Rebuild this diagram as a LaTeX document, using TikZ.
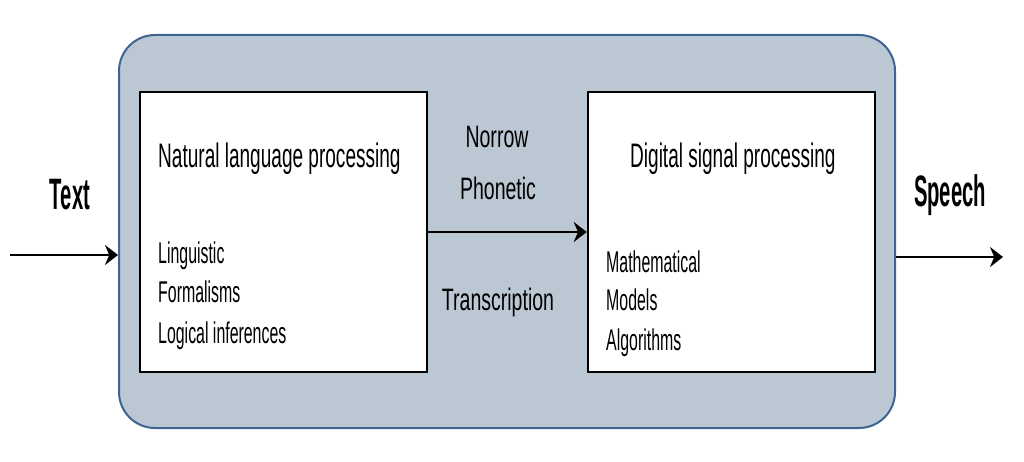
\documentclass[tikz,border=0pt]{standalone}
\usepackage{fontspec}
\usetikzlibrary{arrows.meta}
\newfontfamily\condh[FakeStretch=0.56]{Liberation Sans}
\newfontfamily\cond[FakeStretch=0.53]{Liberation Sans}
\newfontfamily\condm[FakeStretch=0.63]{Liberation Sans}
\newfontfamily\condb[FakeStretch=0.46]{Liberation Sans Bold}
\definecolor{outerfill}{HTML}{BBC8D3}
\definecolor{outerline}{HTML}{3D6493}
\tikzset{
  outerbox/.style={draw=outerline, line width=2pt, fill=outerfill, rounded corners=36pt, minimum width=776pt, minimum height=393pt, inner sep=0pt},
  procbox/.style={draw=black, line width=2.4pt, fill=white, minimum width=287pt, minimum height=280pt, inner sep=0pt},
  arr/.style={draw=black, line width=2.4pt, -{Stealth[length=13pt,width=20pt]}},
  head/.style={font=\condh\fontsize{34}{40}\selectfont, anchor=base west, inner sep=0pt},
  body/.style={font=\cond\fontsize{30}{36}\selectfont, anchor=base west, inner sep=0pt},
  mid/.style={font=\condm\fontsize{31}{36}\selectfont, anchor=base, inner sep=0pt},
  io/.style={font=\condb\fontsize{44}{50}\selectfont, anchor=base, inner sep=0pt}
}
\begin{document}
\begin{tikzpicture}[x=1pt,y=-1pt]
\useasboundingbox (0,0) rectangle (1024,462);
\node[outerbox] (outer) at (507,231.5) {};
\node[procbox] (nlp) at (283.5,232) {};
\node[procbox] (dsp) at (731.5,232) {};
% headings
\node[head] (nlph) at (158,168) {Natural language processing};
\node[head] (dsph) at (630,168) {Digital signal processing};
% body texts
\node[body] (l1) at (158,263) {Linguistic};
\node[body] (l2) at (158,302) {Formalisms};
\node[body] (l3) at (158,343) {Logical inferences};
\node[body] (r1) at (606,272) {Mathematical};
\node[body] (r2) at (606,310) {Models};
\node[body] (r3) at (606,350) {Algorithms};
% middle labels
\node[mid] (m1) at (497,148) {Norrow};
\node[mid] (m2) at (498,200) {Phonetic};
\node[mid] (m3) at (498,310) {Transcription};
% input / output
\node[io] (txt) at (70,210) {Text};
\node[io] (sp) at (950,207) {Speech};
\coordinate (tin) at (10,255);
\coordinate (tout) at (1003,257);
% connectors
\draw[arr] (nlp.east) -- (dsp.west);
\draw[arr] (tin) -- (tin -| outer.west);
\draw[arr] (tout -| outer.east) -- (tout);
\end{tikzpicture}
\end{document}
